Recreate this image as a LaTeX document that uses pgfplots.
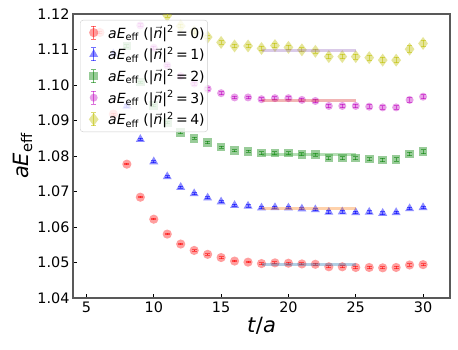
\documentclass[border=0pt]{standalone}
\usepackage{fontspec}
\setmainfont{DejaVu Sans}
\usepackage{pgfplots}
\usepackage{pgfplotstable}
\pgfplotsset{compat=1.18}
\definecolor{mred}{rgb}{1,0,0}
\definecolor{mblue}{rgb}{0,0,1}
\definecolor{mgreen}{rgb}{0,0.5,0}
\definecolor{mmag}{rgb}{0.75,0,0.75}
\definecolor{myel}{rgb}{0.75,0.75,0}
\definecolor{cC0}{rgb}{0.122,0.467,0.706}
\definecolor{cC1}{rgb}{1,0.498,0.055}
\definecolor{cC2}{rgb}{0.173,0.627,0.173}
\definecolor{cC3}{rgb}{0.839,0.153,0.157}
\definecolor{cC4}{rgb}{0.580,0.404,0.741}

\pgfplotstableread{
t v e
6 1.1148 0.0003
7 1.0918 0.0003
8 1.0777 0.0002
9 1.0684 0.0002
10 1.0622 0.0002
11 1.0580 0.0002
12 1.0552 0.0002
13 1.0534 0.0002
14 1.0523 0.0002
15 1.0514 0.0002
16 1.0504 0.0002
17 1.0501 0.0002
18 1.0497 0.0003
19 1.0499 0.0003
20 1.0498 0.0003
21 1.0496 0.0003
22 1.0495 0.0003
23 1.0488 0.0003
24 1.0488 0.0003
25 1.0486 0.0003
26 1.0486 0.0003
27 1.0485 0.0003
28 1.0486 0.0003
29 1.0493 0.0003
30 1.0494 0.0003
}\tzero
\pgfplotstableread{
t v e
7 1.1088 0.0003
8 1.0941 0.0003
9 1.0847 0.0003
10 1.0784 0.0003
11 1.0742 0.0003
12 1.0712 0.0003
13 1.0694 0.0003
14 1.0682 0.0003
15 1.0671 0.0003
16 1.0661 0.0003
17 1.0659 0.0003
18 1.0654 0.0003
19 1.0655 0.0003
20 1.0654 0.0003
21 1.0651 0.0003
22 1.0649 0.0003
23 1.0642 0.0004
24 1.0643 0.0004
25 1.0641 0.0004
26 1.0642 0.0004
27 1.0639 0.0004
28 1.0641 0.0004
29 1.0652 0.0004
30 1.0655 0.0004
}\tone
\pgfplotstableread{
t v e
8 1.1110 0.0003
9 1.1008 0.0003
10 1.0942 0.0003
11 1.0894 0.0003
12 1.0866 0.0003
13 1.0850 0.0003
14 1.0838 0.0003
15 1.0825 0.0003
16 1.0815 0.0003
17 1.0813 0.0003
18 1.0808 0.0004
19 1.0808 0.0004
20 1.0808 0.0004
21 1.0805 0.0004
22 1.0804 0.0004
23 1.0794 0.0004
24 1.0794 0.0004
25 1.0794 0.0004
26 1.0791 0.0004
27 1.0789 0.0005
28 1.0790 0.0005
29 1.0806 0.0005
30 1.0812 0.0005
}\ttwo
\pgfplotstableread{
t v e
9 1.1168 0.0004
10 1.1105 0.0004
11 1.1055 0.0004
12 1.1025 0.0004
13 1.1004 0.0004
14 1.0989 0.0004
15 1.0977 0.0004
16 1.0965 0.0004
17 1.0965 0.0004
18 1.0960 0.0004
19 1.0963 0.0004
20 1.0963 0.0004
21 1.0958 0.0004
22 1.0955 0.0005
23 1.0941 0.0005
24 1.0941 0.0005
25 1.0941 0.0005
26 1.0939 0.0005
27 1.0937 0.0005
28 1.0937 0.0005
29 1.0958 0.0006
30 1.0967 0.0006
}\tthree
\pgfplotstableread{
t v e
11 1.1196 0.0005
12 1.1166 0.0005
13 1.1150 0.0005
14 1.1135 0.0005
15 1.1120 0.0005
16 1.1110 0.0005
17 1.1110 0.0005
18 1.1103 0.0006
19 1.1111 0.0006
20 1.1106 0.0006
21 1.1099 0.0006
22 1.1095 0.0006
23 1.1080 0.0006
24 1.1080 0.0006
25 1.1080 0.0007
26 1.1077 0.0007
27 1.1070 0.0008
28 1.1070 0.0008
29 1.1101 0.0009
30 1.1117 0.0009
}\tfour

\newcommand{\lab}[1]{\textit{aE}\textsubscript{eff} (|$\vec{\textit{n}}$|\textsuperscript{2}\,=\,#1)}

\pgfplotsset{
  errleg/.style={legend image code/.code={
    \path[draw=none,fill=none] (0bp,0bp) -- (25bp,0bp);
    \draw[##1,mark=none,line width=1bp,opacity=0.55] (12.5bp,-6.5bp) -- (12.5bp,6.5bp);
    \draw[##1,mark=none,line width=1bp,opacity=0.55] (10bp,-6.5bp) -- (15bp,-6.5bp);
    \draw[##1,mark=none,line width=1bp,opacity=0.55] (10bp,6.5bp) -- (15bp,6.5bp);
    \draw[##1] plot coordinates {(12.5bp,0bp)};
  }},
  ebar/.style={/pgfplots/error bars/.cd, y dir=both, y explicit,
    error bar style={#1, line width=1bp, opacity=0.55},
    error mark options={#1, mark size=2.5bp, line width=1bp, opacity=0.55, rotate=90},
    /pgfplots/.cd},
}

\begin{document}
\begin{tikzpicture}
\useasboundingbox (-73bp,-52bp) rectangle (385bp,298bp);
\begin{axis}[
  scale only axis, width=377bp, height=284bp,
  at={(0,0)}, anchor=south west,
  xmin=4, xmax=32, ymin=1.04, ymax=1.12,
  xtick={5,10,15,20,25,30},
  ytick={1.04,1.05,1.06,1.07,1.08,1.09,1.10,1.11,1.12},
  yticklabel style={/pgf/number format/.cd, fixed, fixed zerofill, precision=2},
  /pgf/number format/assume math mode=true,
  tick pos=left, tick align=inside,
  major tick length=4bp,
  every tick/.style={black, line width=0.8bp},
  axis line style={black!65, line width=1.1bp},
  tick label style={font=\fontsize{14.4bp}{17bp}\selectfont},
  xlabel={\textit{t}/\textit{a}},
  ylabel={\textit{aE}\textsubscript{eff}},
  label style={font=\fontsize{21bp}{25bp}\selectfont},
  xlabel style={at={(axis description cs:0.5,-0.123)}, anchor=base},
  ylabel style={at={(axis description cs:-0.119,0.5)}, anchor=base, rotate=0},
  clip marker paths=true,
  legend cell align=left,
  legend style={at={(axis description cs:0.0186,0.979)}, anchor=north west,
    fill=white, fill opacity=0.8, text opacity=1, draw=black!20, rounded corners=3bp,
    font=\fontsize{14bp}{17bp}\selectfont, row sep=2.7bp, inner xsep=1bp, inner ysep=3bp,
    nodes={inner ysep=2.5bp}},
]
\addplot[only marks, mark=*, mark size=4.6bp, color=mred, mark options={fill=mred, draw opacity=0, fill opacity=0.38}, errleg, ebar=mred] table[x=t, y=v, y error=e] {\tzero};
\addlegendentry{\lab{0}}
\addplot[only marks, mark=triangle*, mark size=5.2bp, color=mblue, mark options={fill=mblue, draw opacity=0, fill opacity=0.45}, errleg, ebar=mblue] table[x=t, y=v, y error=e] {\tone};
\addlegendentry{\lab{1}}
\addplot[only marks, mark=square*, mark size=4.3bp, color=mgreen, mark options={fill=mgreen, draw opacity=0, fill opacity=0.4}, errleg, ebar=mgreen] table[x=t, y=v, y error=e] {\ttwo};
\addlegendentry{\lab{2}}
\addplot[only marks, mark=*, mark size=4bp, color=mmag, mark options={fill=mmag, draw opacity=0, fill opacity=0.38}, errleg, ebar=mmag] table[x=t, y=v, y error=e] {\tthree};
\addlegendentry{\lab{3}}
\addplot[only marks, mark=diamond*, mark size=6.5bp, color=myel, mark options={fill=myel, draw opacity=0, fill opacity=0.4}, errleg, ebar=myel] table[x=t, y=v, y error=e] {\tfour};
\addlegendentry{\lab{4}}
\addplot[cC0, line width=3bp, opacity=0.35, forget plot] coordinates {(18,1.0493) (25,1.0493)};
\addplot[cC1, line width=3bp, opacity=0.35, forget plot] coordinates {(18,1.0651) (25,1.0651)};
\addplot[cC2, line width=3bp, opacity=0.35, forget plot] coordinates {(18,1.0804) (25,1.0804)};
\addplot[cC3, line width=3bp, opacity=0.35, forget plot] coordinates {(18,1.0956) (25,1.0956)};
\addplot[cC4, line width=3bp, opacity=0.35, forget plot] coordinates {(18,1.1098) (25,1.1098)};
\end{axis}
\end{tikzpicture}
\end{document}
